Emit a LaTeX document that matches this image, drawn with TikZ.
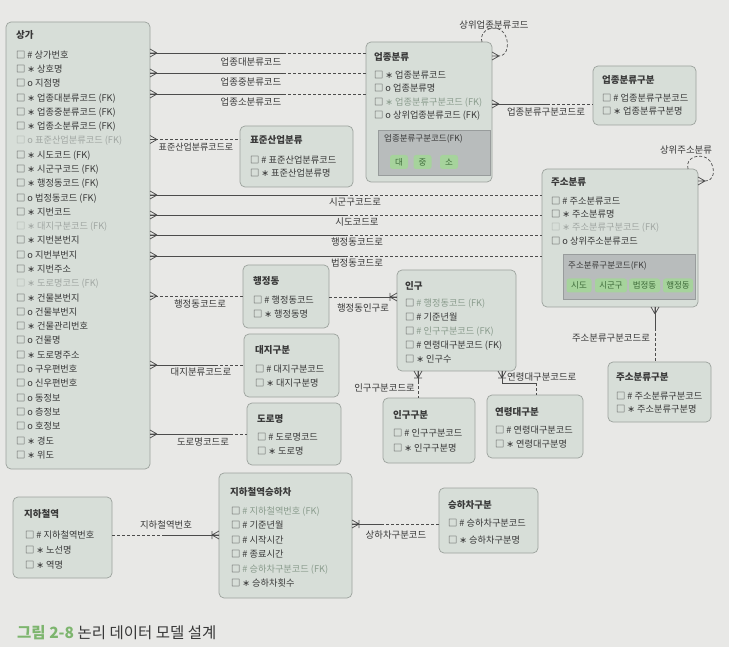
\documentclass[tikz,border=0pt]{standalone}
\usepackage{fontspec}
\setmainfont{Noto Sans CJK KR}
\newfontfamily\dejavu{DejaVu Sans}
\usetikzlibrary{calc}
\definecolor{bgc}{HTML}{E8E8E6}
\definecolor{boxf}{HTML}{D7DED8}
\definecolor{boxd}{HTML}{9CA29D}
\definecolor{txt}{HTML}{383838}
\definecolor{fkc}{HTML}{8A9C8D}
\definecolor{lgc}{HTML}{A0A6A2}
\definecolor{innerf}{HTML}{B8BCBC}
\definecolor{innerd}{HTML}{989C9C}
\definecolor{chipf}{HTML}{A6D39C}
\definecolor{chipt}{HTML}{3E6B3A}
\definecolor{linec}{HTML}{4C4C4C}
\definecolor{capg}{HTML}{7DB56E}
\newcommand\mk{{\dejavu ∗}}
\newcommand\erows[5]{\foreach \t [count=\i from 0] in {#5} {\node[row] (#1-\i) at (#2,{#3+\i*#4+3.2}) {\t};}}
\begin{document}
\begin{tikzpicture}[x=1pt,y=-1pt,
 ent/.style={draw=boxd, fill=boxf, rounded corners=5pt, line width=0.7pt, anchor=north west, inner sep=0, outer sep=0},
 innerbox/.style={draw=innerd, fill=innerf, line width=0.5pt, anchor=north west, inner sep=0, outer sep=0},
 chip/.style={fill=chipf, rounded corners=2.5pt, inner sep=0, minimum height=14, font=\fontsize{8.5}{10}\selectfont, text=chipt, anchor=center},
 ttl/.style={anchor=base west, inner sep=0, font=\fontsize{9.5}{11}\selectfont\bfseries, text=txt},
 row/.style={anchor=base west, inner sep=0, font=\fontsize{9.2}{11}\selectfont, text=txt},
 lbl/.style={inner sep=0, font=\fontsize{9.4}{11}\selectfont, text=txt},
 conn/.style={draw=linec, line width=0.7pt},
 dconn/.style={conn, dash pattern=on 3pt off 2pt},
 crowR/.pic={\draw[conn] (7,0) -- (0,-4) (7,0) -- (0,4) (7,0) -- (0,0);},
 crowL/.pic={\draw[conn] (-7,0) -- (0,-4) (-7,0) -- (0,4) (-7,0) -- (0,0);},
 crowD/.pic={\draw[conn] (0,7) -- (-4,0) (0,7) -- (4,0) (0,7) -- (0,0);},
 barcrowL/.pic={\draw[conn] (-7,0) -- (0,-4) (-7,0) -- (0,4) (-7,0) -- (0,0) (-7,-4) -- (-7,4);},
 barcrowR/.pic={\draw[conn] (7,0) -- (0,-4) (7,0) -- (0,4) (7,0) -- (0,0) (7,-4) -- (7,4);},
 barcrowD/.pic={\draw[conn] (0,7) -- (-4,0) (0,7) -- (4,0) (0,7) -- (0,0) (-4,7) -- (4,7);},
]
\useasboundingbox (0,0) rectangle (729,647);
\fill[bgc] (0,0) rectangle (729,647);

% ---------------- 상가
\node[ent, minimum width=144, minimum height=447] (sg) at (6,22) {};
\node[ttl] (sg-t) at (16,38.4) {상가};
\erows{sg}{16}{55}{14.29}{
□ \# 상가번호, □ \mk{} 상호명, □ o 지점명,
□ \mk{} 업종대분류코드 (FK), □ \mk{} 업종중분류코드 (FK), □ \mk{} 업종소분류코드 (FK),
{\color{lgc}□ o 표준산업분류코드 (FK)},
□ \mk{} 시도코드 (FK), □ \mk{} 시군구코드 (FK), □ \mk{} 행정동코드 (FK), □ o 법정동코드 (FK),
□ \mk{} 지번코드, {\color{lgc}□ \mk{} 대지구분코드 (FK)}, □ \mk{} 지번본번지, □ o 지번부번지,
□ \mk{} 지번주소, {\color{lgc}□ \mk{} 도로명코드 (FK)}, □ \mk{} 건물본번지, □ o 건물부번지,
□ \mk{} 건물관리번호, □ o 건물명, □ \mk{} 도로명주소, □ o 구우편번호, □ o 신우편번호,
□ o 동정보, □ o 층정보, □ o 호정보, □ \mk{} 경도, □ \mk{} 위도}

% ---------------- 업종분류
\node[ent, minimum width=126, minimum height=140] (yjb) at (366,42) {};
\node[ttl] (yjb-t) at (374,60.4) {업종분류};
\erows{yjb}{374}{75}{13.6}{
□ \mk{} 업종분류코드, □ o 업종분류명, □ {\color{fkc}\mk{} 업종분류구분코드 (FK)}, □ o 상위업종분류코드 (FK)}
\node[innerbox, minimum width=112, minimum height=45] (yjbin) at (378,130) {};
\node[row, font=\fontsize{8.5}{10}\selectfont] (yjbin-t) at (384,141.5) {업종분류구분코드(FK)};
\node[chip, minimum width=18] (ch1) at (399,162) {대};
\node[chip, minimum width=18] (ch2) at (422.5,162) {중};
\node[chip, minimum width=18] (ch3) at (449,162) {소};

% ---------------- 업종분류구분
\node[ent, minimum width=103, minimum height=59] (yjbg) at (593,66) {};
\node[ttl] (yjbg-t) at (602,83.4) {업종분류구분};
\erows{yjbg}{602}{98}{13}{□ \# 업종분류구분코드, □ \mk{} 업종분류구분명}

% ---------------- 표준산업분류
\node[ent, minimum width=113, minimum height=61] (pj) at (240,126) {};
\node[ttl] (pj-t) at (250,143.4) {표준산업분류};
\erows{pj}{250}{160}{13.5}{□ \# 표준산업분류코드, □ \mk{} 표준산업분류명}

% ---------------- 주소분류
\node[ent, minimum width=156, minimum height=138] (jb) at (542,169) {};
\node[ttl] (jb-t) at (551,185.4) {주소분류};
\erows{jb}{551}{201}{13.3}{
□ \# 주소분류코드, □ \mk{} 주소분류명, {\color{lgc}□ \mk{} 주소분류구분코드 (FK)}, □ o 상위주소분류코드}
\node[innerbox, minimum width=132, minimum height=45] (jbin) at (563,254) {};
\node[row, font=\fontsize{8.5}{10}\selectfont] (jbin-t) at (568,268.2) {주소분류구분코드(FK)};
\node[chip, minimum width=25] (cj1) at (579,285.5) {시도};
\node[chip, minimum width=32] (cj2) at (611,285.5) {시군구};
\node[chip, minimum width=31] (cj3) at (644.5,285.5) {법정동};
\node[chip, minimum width=30] (cj4) at (678,285.5) {행정동};

% ---------------- 주소분류구분
\node[ent, minimum width=103, minimum height=60] (jbg) at (608,362) {};
\node[ttl] (jbg-t) at (616,380.4) {주소분류구분};
\erows{jbg}{616}{396}{13.3}{□ \# 주소분류구분코드, □ \mk{} 주소분류구분명}

% ---------------- 행정동
\node[ent, minimum width=86, minimum height=63] (hj) at (243,265) {};
\node[ttl] (hj-t) at (253,284.4) {행정동};
\erows{hj}{253}{300}{14}{□ \# 행정동코드, □ \mk{} 행정동명}

% ---------------- 대지구분
\node[ent, minimum width=95, minimum height=63] (dg) at (244,334) {};
\node[ttl] (dg-t) at (255,353.4) {대지구분};
\erows{dg}{255}{369}{14.3}{□ \# 대지구분코드, □ \mk{} 대지구분명}

% ---------------- 도로명
\node[ent, minimum width=94, minimum height=62] (drm) at (247,403) {};
\node[ttl] (drm-t) at (257,422.4) {도로명};
\erows{drm}{257}{437}{14.5}{□ \# 도로명코드, □ \mk{} 도로명}

% ---------------- 인구
\node[ent, minimum width=119, minimum height=101] (ig) at (397,270) {};
\node[ttl] (ig-t) at (405,289.4) {인구};
\erows{ig}{405}{303.3}{14}{
□ {\color{fkc}\# 행정동코드 (FK)}, □ \# 기준년월, □ {\color{fkc}\# 인구구분코드 (FK)}, □ \# 연령대구분코드 (FK), □ \mk{} 인구수}

% ---------------- 인구구분
\node[ent, minimum width=92, minimum height=65] (igg) at (383,398) {};
\node[ttl] (igg-t) at (393,418.4) {인구구분};
\erows{igg}{393}{433.5}{14.3}{□ \# 인구구분코드, □ \mk{} 인구구분명}

% ---------------- 연령대구분
\node[ent, minimum width=96, minimum height=63] (ygg) at (487,395) {};
\node[ttl] (ygg-t) at (495,415.4) {연령대구분};
\erows{ygg}{495}{430}{14}{□ \# 연령대구분코드, □ \mk{} 연령대구분명}

% ---------------- 지하철역
\node[ent, minimum width=99, minimum height=81] (jhc) at (13,497) {};
\node[ttl] (jhc-t) at (24,517.4) {지하철역};
\erows{jhc}{25}{535}{15}{□ \# 지하철역번호, □ \mk{} 노선명, □ \mk{} 역명}

% ---------------- 지하철역승하차
\node[ent, minimum width=133, minimum height=125] (jsh) at (219,473) {};
\node[ttl] (jsh-t) at (230,495.4) {지하철역승하차};
\erows{jsh}{231}{511}{14.5}{
□ {\color{fkc}\# 지하철역번호 (FK)}, □ \# 기준년월, □ \# 시작시간, □ \# 종료시간, □ {\color{fkc}\# 승하차구분코드 (FK)}, □ \mk{} 승하차횟수}

% ---------------- 승하차구분
\node[ent, minimum width=99, minimum height=65] (shg) at (439,488) {};
\node[ttl] (shg-t) at (448,508.4) {승하차구분};
\erows{shg}{448}{523.3}{16.5}{□ \# 승하차구분코드, □ \mk{} 승하차구분명}

% ---------------- caption
\node[anchor=base west, inner sep=0, font=\fontsize{15.5}{18}\selectfont, text=txt] (cap) at (17,638) {{\color{capg}\bfseries 그림 2-8} 논리 데이터 모델 설계};

% ---------------- connectors from 상가
\draw[conn] (sg.east |- 0,53) -- (283,53); \draw[dconn] (283,53) -- (yjb.west |- 0,53);
\pic at (sg.east |- 0,53) {crowR};
\node[lbl] (l1) at (251,62) {업종대분류코드};
\draw[conn] (sg.east |- 0,73) -- (283,73); \draw[dconn] (283,73) -- (yjb.west |- 0,73);
\pic at (sg.east |- 0,73) {crowR};
\node[lbl] (l2) at (251,82) {업종중분류코드};
\draw[conn] (sg.east |- 0,94) -- (283,94); \draw[dconn] (283,94) -- (yjb.west |- 0,94);
\pic at (sg.east |- 0,94) {crowR};
\node[lbl] (l3) at (251,102) {업종소분류코드};

\draw[dconn] (sg.east |- 0,139.5) -- (pj.west |- 0,139.5);
\pic at (sg.east |- 0,139.5) {crowR};
\node[lbl, font=\fontsize{9}{11}\selectfont] (l4) at (196,147) {표준산업분류코드로};

\draw[conn] (sg.east |- 0,195) -- (345,195); \draw[dconn] (345,195) -- (jb.west |- 0,195);
\pic at (sg.east |- 0,195) {crowR};
\node[lbl] (l5) at (355,202) {시군구코드로};
\draw[conn] (sg.east |- 0,215) -- (345,215); \draw[dconn] (345,215) -- (jb.west |- 0,215);
\pic at (sg.east |- 0,215) {crowR};
\node[lbl] (l6) at (357,222) {시도코드로};
\draw[conn] (sg.east |- 0,235) -- (345,235); \draw[dconn] (345,235) -- (jb.west |- 0,235);
\pic at (sg.east |- 0,235) {crowR};
\node[lbl] (l7) at (357,242) {행정동코드로};
\draw[conn] (sg.east |- 0,256) -- (345,256); \draw[dconn] (345,256) -- (jb.west |- 0,256);
\pic at (sg.east |- 0,256) {crowR};
\node[lbl] (l8) at (357,262.5) {법정동코드로};

\draw[dconn] (sg.east |- 0,296) -- (hj.west |- 0,296);
\pic at (sg.east |- 0,296) {crowR};
\node[lbl] (l9) at (200,303.5) {행정동코드로};

\draw[conn] (sg.east |- 0,365) -- (215,365); \draw[dconn] (215,365) -- (dg.west |- 0,365);
\pic at (sg.east |- 0,365) {crowR};
\node[lbl] (l11) at (201,371.5) {대지분류코드로};

\draw[conn] (sg.east |- 0,434) -- (230,434); \draw[dconn] (230,434) -- (drm.west |- 0,434);
\pic at (sg.east |- 0,434) {crowR};
\node[lbl] (l12) at (203,441.5) {도로명코드로};

% ---------------- 행정동 - 인구
\draw[dconn] (hj.east |- 0,297) -- (360,297); \draw[conn] (360,297) -- (ig.west |- 0,297);
\pic at (ig.west |- 0,297) {barcrowL};
\node[lbl] (l10) at (363,308) {행정동인구로};

% ---------------- 인구 - 인구구분
\draw[conn] (418,0 |- ig.south) -- (418,381); \draw[dconn] (418,381) -- (418,0 |- igg.north);
\pic at (418,0 |- ig.south) {barcrowD};
\node[lbl, anchor=east] (l13) at (415,388) {인구구분코드로};

% ---------------- 인구 - 연령대구분
\draw[conn] (502,0 |- ig.south) -- (502,383) -- (536,383); \draw[dconn] (536,383) -- (536,0 |- ygg.north);
\pic at (502,0 |- ig.south) {barcrowD};
\node[lbl, anchor=west] (l14) at (507,377) {연령대구분코드로};

% ---------------- 지하철역 - 승하차
\draw[dconn] (jhc.east |- 0,535) -- (163,535); \draw[conn] (163,535) -- (jsh.west |- 0,535);
\pic at (jsh.west |- 0,535) {barcrowL};
\node[lbl] (l15) at (166,525) {지하철역번호};

\draw[dconn] (shg.west |- 0,524) -- (383,524); \draw[conn] (383,524) -- (jsh.east |- 0,524);
\pic at (jsh.east |- 0,524) {barcrowR};
\node[lbl] (l16) at (396,535) {상하차구분코드};

% ---------------- 업종분류 - 업종분류구분
\draw[conn] (yjb.east |- 0,104) -- (547,104); \draw[dconn] (547,104) -- (yjbg.west |- 0,104);
\pic at (yjb.east |- 0,104) {crowR};
\node[lbl] (l17) at (546,111.5) {업종분류구분코드로};

% ---------------- 주소분류 - 주소분류구분
\draw[conn] (655,0 |- jb.south) -- (655,328); \draw[dconn] (655,328) -- (655,0 |- jbg.north);
\pic at (655,0 |- jb.south) {crowD};
\node[lbl] (l18) at (611,338) {주소분류구분코드로};

% ---------------- self loops
\coordinate (yl1) at ($(yjb.north east)+(-10,0)$);
\coordinate (yl2) at ($(yjb.east |- 0,56)+(7,0)$);
\draw[dconn] (yl1) .. controls (478,28) and (498,24) .. (504,33) .. controls (510,42) and (508,56) .. (yl2);
\pic at (yjb.east |- 0,56) {crowR};
\node[lbl] (l19) at (494,25) {상위업종분류코드};

\coordinate (jl1) at ($(jb.north east)+(-10,0)$);
\coordinate (jl2) at ($(jb.east |- 0,181)+(7,0)$);
\draw[dconn] (jl1) .. controls (684,156) and (704,152) .. (710,161) .. controls (716,170) and (714,181) .. (jl2);
\pic at (jb.east |- 0,181) {crowR};
\node[lbl] (l20) at (686,150) {상위주소분류};
\end{tikzpicture}
\end{document}
